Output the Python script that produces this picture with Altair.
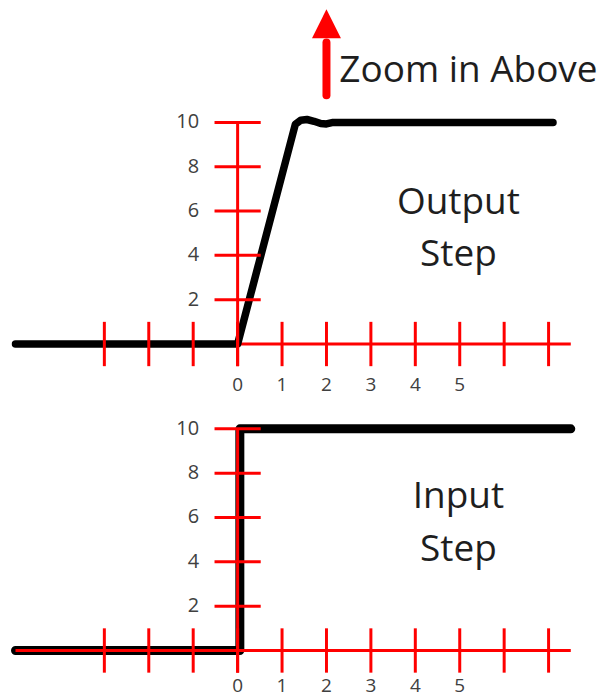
import altair as alt
import pandas as pd

# ---- data ----
X_TICKS = [-3, -2, -1, 0, 1, 2, 3, 4, 5, 6, 7]
Y_TICKS = [2, 4, 6, 8, 10]
X_LABELS = [0, 1, 2, 3, 4, 5]
Y_LABELS = [2, 4, 6, 8, 10]
AXIS_X_RANGE = [-5, 7.5]
Y_AXIS_RANGE = [-1, 10]

OUT_U = [-5, 0, 1.30, 1.42, 1.56, 1.72, 1.87, 2.00, 2.15, 7.1]
OUT_V = [0, 0, 9.92, 10.10, 10.13, 10.05, 9.95, 9.93, 10.0, 10.0]
IN_U = [-5, 0.05, 0.05, 7.5]
IN_V = [0, 0, 10, 10]

TOP_TEXT = ["Output", "Step"]
TOP_TEXT_V = [5.87, 3.51]
BOT_TEXT = ["Input", "Step"]
BOT_TEXT_V = [6.43, 4.05]
TEXT_U = 4.97

TOP_XLABEL_V = -1.83
BOT_XLABEL_V = -1.62

ZOOM_TEXT = "Zoom in Above"
ZOOM_TEXT_POS = [2.29, 12.3]
ARROW_U = 2.0
ARROW_HEAD_V = 14.45
ARROW_SHAFT_V = [11.22, 13.6]

# ---- geometry ----
RED = "#ff0000"
INK = "#1e1e1e"
LABEL_GREY = "#404040"
FONT = "Open Sans"
W = 592
TOP_H = 392
BOT_H = 298
XDOM = [-5.169, 8.135]
TOP_YDOM = [-2.568, 15.09]
BOT_YDOM = [-2.162, 11.26]


def scales(ydom):
    x = alt.X("u:Q", scale=alt.Scale(domain=XDOM, nice=False, zero=False), axis=None)
    y = alt.Y("v:Q", scale=alt.Scale(domain=ydom, nice=False, zero=False), axis=None)
    return x, y


def panel(line_u, line_v, line_width, texts, texts_v, xlabel_v, ydom, height, black_over_axis, extra=None):
    x, y = scales(ydom)
    axis_h = alt.Chart(pd.DataFrame({"u": [AXIS_X_RANGE[0]], "u2": [AXIS_X_RANGE[1]], "v": [0]})).mark_rule(
        color=RED, strokeWidth=3).encode(x=x, x2="u2:Q", y=y)
    axis_v = alt.Chart(pd.DataFrame({"u": [0], "v": [Y_AXIS_RANGE[0]], "v2": [Y_AXIS_RANGE[1]]})).mark_rule(
        color=RED, strokeWidth=3).encode(x=x, y=y, y2="v2:Q")
    xt = alt.Chart(pd.DataFrame({"u": X_TICKS, "v": [-1] * len(X_TICKS), "v2": [1] * len(X_TICKS)})).mark_rule(
        color=RED, strokeWidth=3).encode(x=x, y=y, y2="v2:Q")
    yt = alt.Chart(pd.DataFrame({"v": Y_TICKS, "u": [-0.52] * len(Y_TICKS), "u2": [0.52] * len(Y_TICKS)})).mark_rule(
        color=RED, strokeWidth=3).encode(x=x, x2="u2:Q", y=y)
    xl = alt.Chart(pd.DataFrame({"u": X_LABELS, "v": [xlabel_v] * len(X_LABELS),
                                 "t": [str(s) for s in X_LABELS]})).mark_text(
        font=FONT, fontSize=19, color=LABEL_GREY, align="center", baseline="middle").encode(x=x, y=y, text="t:N")
    yl = alt.Chart(pd.DataFrame({"v": Y_LABELS, "u": [-0.865] * len(Y_LABELS),
                                 "t": [str(s) for s in Y_LABELS]})).mark_text(
        font=FONT, fontSize=20, color=LABEL_GREY, align="right", baseline="middle").encode(x=x, y=y, text="t:N")
    line = alt.Chart(pd.DataFrame({"u": line_u, "v": line_v, "i": list(range(len(line_u)))})).mark_line(
        color="black", strokeWidth=line_width, strokeCap="round", strokeJoin="round").encode(
        x=x, y=y, order="i:Q")
    big = alt.Chart(pd.DataFrame({"u": [TEXT_U] * len(texts), "v": texts_v, "t": texts})).mark_text(
        font=FONT, fontSize=37, color=INK, align="center", baseline="alphabetic").encode(x=x, y=y, text="t:N")
    if black_over_axis:
        layers = [axis_h, line, axis_v, xt, yt]
    else:
        layers = [line, axis_h, axis_v, xt, yt]
    layers += [xl, yl, big]
    if extra is not None:
        layers += extra(x, y)
    return alt.layer(*layers).properties(width=W, height=height)


def arrow_layers(x, y):
    shaft = alt.Chart(pd.DataFrame({"u": [ARROW_U], "v": [ARROW_SHAFT_V[0]], "v2": [ARROW_SHAFT_V[1]]})).mark_rule(
        color=RED, strokeWidth=8, strokeCap="round").encode(x=x, y=y, y2="v2:Q")
    head = alt.Chart(pd.DataFrame({"u": [ARROW_U], "v": [ARROW_HEAD_V]})).mark_point(
        shape="M0,-1L1,1L-1,1Z", filled=True, color=RED, opacity=1, size=841, strokeWidth=0).encode(x=x, y=y)
    txt = alt.Chart(pd.DataFrame({"u": [ZOOM_TEXT_POS[0]], "v": [ZOOM_TEXT_POS[1]], "t": [ZOOM_TEXT]})).mark_text(
        font=FONT, fontSize=37, color=INK, align="left", baseline="middle").encode(x=x, y=y, text="t:N")
    return [shaft, head, txt]


top = panel(OUT_U, OUT_V, 7.5, TOP_TEXT, TOP_TEXT_V, TOP_XLABEL_V, TOP_YDOM, TOP_H, True, extra=arrow_layers)
bottom = panel(IN_U, IN_V, 9, BOT_TEXT, BOT_TEXT_V, BOT_XLABEL_V, BOT_YDOM, BOT_H, False)

chart = alt.vconcat(top, bottom, spacing=0).properties(padding=0).configure_view(strokeWidth=0)
chart.save("out.html", embed_options={"renderer": "svg", "actions": False})
